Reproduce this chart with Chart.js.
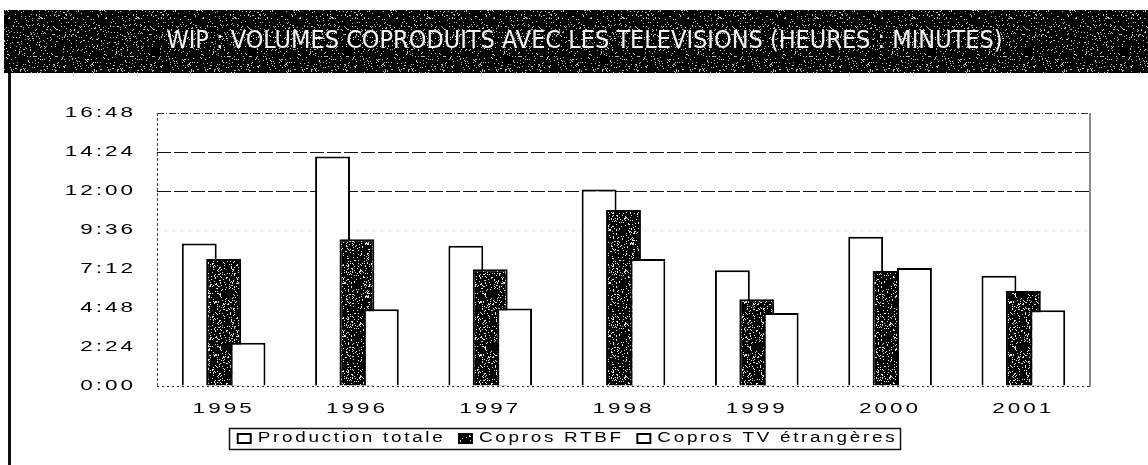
<!DOCTYPE html>
<html><head><meta charset="utf-8">
<script src="https://cdn.jsdelivr.net/npm/chart.js@4.4.1/dist/chart.umd.min.js"></script>
<style>html,body{margin:0;padding:0;background:#fff;overflow:hidden}#wrap{position:relative;width:1148px;height:465px}</style>
</head><body><div id="wrap"><canvas id="c" width="1148" height="465"></canvas></div>
<script>
const titleText = 'WIP : VOLUMES COPRODUITS AVEC LES TELEVISIONS (HEURES : MINUTES)';
const categories = ['1995', '1996', '1997', '1998', '1999', '2000', '2001'];
const seriesNames = ['Production totale', 'Copros RTBF', 'Copros TV étrangères'];
// values in minutes
const productionTotale = [526, 847, 518, 726, 427, 551, 407];
const coprosRTBF = [469, 542, 431, 650, 320, 425, 351];
const coprosTVEtrangeres = [160, 283, 286, 469, 270, 436, 280];
const yTickLabels = ['0:00', '2:24', '4:48', '7:12', '9:36', '12:00', '14:24', '16:48'];

const FONT = "'Liberation Sans', Arial, sans-serif";
const canvas = document.getElementById('c');
const ctx0 = canvas.getContext('2d');

// wide text rendering (horizontal stretch of glyphs, as in the scanned original)
const origFill = ctx0.fillText;
const origMeasure = ctx0.measureText;
ctx0.__sx = 1.5;
ctx0.fillText = function (t, x, y, mw) {
  const k = this.__sx || 1;
  if (k === 1) { return mw === undefined ? origFill.call(this, t, x, y) : origFill.call(this, t, x, y, mw); }
  this.save(); this.translate(x, y); this.scale(k, 1);
  origFill.call(this, t, 0, 0);
  this.restore();
};
ctx0.measureText = function (t) {
  const m = origMeasure.call(this, t);
  const k = this.__sx || 1;
  if (k === 1) return m;
  return { width: m.width * k, actualBoundingBoxAscent: m.actualBoundingBoxAscent, actualBoundingBoxDescent: m.actualBoundingBoxDescent,
    actualBoundingBoxLeft: m.actualBoundingBoxLeft * k, actualBoundingBoxRight: m.actualBoundingBoxRight * k };
};

function speckle(size, density, base, dot, seed) {
  const c = document.createElement('canvas');
  c.width = c.height = size;
  const g = c.getContext('2d');
  g.fillStyle = base; g.fillRect(0, 0, size, size);
  g.fillStyle = dot;
  let s = seed >>> 0;
  const next = () => { s = (Math.imul(s, 1664525) + 1013904223) >>> 0; return s; };
  const n = Math.floor(size * size * density);
  for (let i = 0; i < n; i++) { g.fillRect(next() % size, next() % size, 1, 1); }
  return ctx0.createPattern(c, 'repeat');
}
const bandPattern = speckle(97, 0.085, '#000', '#bdbdbd', 7);
const darkPattern = speckle(53, 0.15, '#000', '#e0e0e0', 11);

function fmt(v) { const m = Math.round(v); return Math.floor(m / 60) + ':' + String(m % 60).padStart(2, '0'); }

function withStyle(c, k, ls, fn) {
  const pk = c.__sx; const pls = c.letterSpacing;
  c.__sx = k; c.letterSpacing = ls;
  try { return fn(); } finally { c.__sx = pk; c.letterSpacing = pls; }
}

const stylePlugin = {
  id: 'scanStyle',
  beforeUpdate(chart) {
    const c = chart.ctx;
    c.letterSpacing = '2px';
    c.__sx = 1.5;
    const lg = chart.legend;
    if (lg && !lg._wrapped) {
      const f = lg.fit.bind(lg), d = lg.draw.bind(lg);
      lg.fit = function () { return withStyle(c, 1.35, '2px', () => f()); };
      lg.draw = function () { return withStyle(c, 1.35, '2px', () => d()); };
      lg._wrapped = true;
    }
    const tb = chart.titleBlock;
    if (tb && !tb._wrapped) {
      const orig = tb.draw.bind(tb);
      tb.draw = function (a) {
        return withStyle(c, 1, '0px', () => { c.save(); c.translate(17, 0); orig(a); c.restore(); });
      };
      tb._wrapped = true;
    }
  },
  beforeDraw(chart) {
    const c = chart.ctx;
    c.letterSpacing = '2px';
    c.__sx = 1.5;
    c.save();
    c.fillStyle = bandPattern;
    c.fillRect(4, 10, chart.width - 4, 63);
    c.fillStyle = '#111';
    c.fillRect(8, 73, 3, chart.height - 73);
    c.restore();
  },
  beforeDatasetsDraw(chart) {
    const c = chart.ctx, a = chart.chartArea;
    c.save();
    c.lineWidth = 1;
    c.strokeStyle = '#444';
    c.setLineDash([3, 2]);
    c.beginPath(); c.moveTo(a.left + 0.5, a.top); c.lineTo(a.left + 0.5, a.bottom); c.stroke();
    c.setLineDash([2, 3]);
    c.strokeStyle = '#222';
    c.beginPath(); c.moveTo(a.left, a.bottom + 0.5); c.lineTo(a.right, a.bottom + 0.5); c.stroke();
    c.setLineDash([]);
    c.strokeStyle = '#8a8a8a';
    c.lineWidth = 2;
    c.beginPath(); c.moveTo(a.right, a.top); c.lineTo(a.right, a.bottom + 1); c.stroke();
    c.restore();
    // draw series in their natural order so each later series overlaps the previous one
    for (let i = 0; i < chart.data.datasets.length; i++) {
      const meta = chart.getDatasetMeta(i);
      if (meta.visible !== false && !meta.hidden) meta.controller.draw();
    }
    return false;
  },
  afterDraw(chart) {
    const lg = chart.legend;
    if (!lg || !lg.legendHitBoxes || !lg.legendHitBoxes.length) return;
    const hb = lg.legendHitBoxes;
    let l = Infinity, r = -Infinity, t = Infinity, b = -Infinity;
    hb.forEach(h => { l = Math.min(l, h.left); r = Math.max(r, h.left + h.width); t = Math.min(t, h.top); b = Math.max(b, h.top + h.height); });
    const c = chart.ctx;
    c.save();
    c.strokeStyle = '#111';
    c.lineWidth = 1.5;
    c.strokeRect(Math.round(l - 9) + 0.5, Math.round(t - 4) + 0.5, Math.round(r - l + 11), Math.round(b - t + 7));
    c.restore();
  }
};

new Chart(canvas, {
  type: 'bar',
  data: {
    labels: categories,
    datasets: [
      { label: seriesNames[0], data: productionTotale, backgroundColor: '#fff', borderColor: '#000', borderWidth: 2 },
      { label: seriesNames[1], data: coprosRTBF, backgroundColor: darkPattern, borderColor: '#000', borderWidth: 2 },
      { label: seriesNames[2], data: coprosTVEtrangeres, backgroundColor: '#fff', borderColor: '#000', borderWidth: 2 }
    ]
  },
  options: {
    responsive: false,
    animation: false,
    devicePixelRatio: 1,
    categoryPercentage: 0.549,
    barPercentage: 1.43,
    layout: { padding: { top: 0, left: 45, right: 58, bottom: 9.5 } },
    plugins: {
      title: {
        display: true, text: titleText, color: '#f4f4f4',
        font: { family: "'Liberation Sans Narrow', 'DejaVu Sans Condensed', 'Liberation Sans', sans-serif", size: 25, weight: 'normal' },
        padding: { top: 26.4, bottom: 56.6 }
      },
      legend: {
        position: 'bottom',
        labels: { color: '#000', font: { family: FONT, size: 14 }, boxWidth: 13, boxHeight: 9, padding: 13.5 }
      },
      tooltip: { enabled: false }
    },
    scales: {
      x: {
        afterFit(s) { s.height = 32; },
        grid: { display: false, drawTicks: false },
        border: { display: false },
        ticks: { color: '#000', font: { family: FONT, size: 15 }, padding: 14, maxRotation: 0, autoSkip: false }
      },
      y: {
        min: 0, max: 1008,
        afterFit(s) { s.width = 112; },
        grid: {
          drawTicks: false,
          lineWidth: 1,
          color: (c) => {
            const v = c.tick ? c.tick.value : null;
            if (v === 1008) return '#333';
            if (v === 864 || v === 720) return '#111';
            if (v === 576) return '#9a9a9a';
            return 'rgba(0,0,0,0)';
          }
        },
        border: {
          display: false,
          dash: (c) => {
            const v = c.tick ? c.tick.value : null;
            if (v === 576) return [1, 7];
            if (v === 1008) return [7, 2, 1, 2];
            return [14, 3];
          }
        },
        ticks: {
          stepSize: 144, padding: 21, color: '#000', font: { family: FONT, size: 15 },
          callback: (v, i) => (yTickLabels[i] !== undefined ? yTickLabels[i] : fmt(v))
        }
      }
    }
  },
  plugins: [stylePlugin]
});
</script>
</body></html>
